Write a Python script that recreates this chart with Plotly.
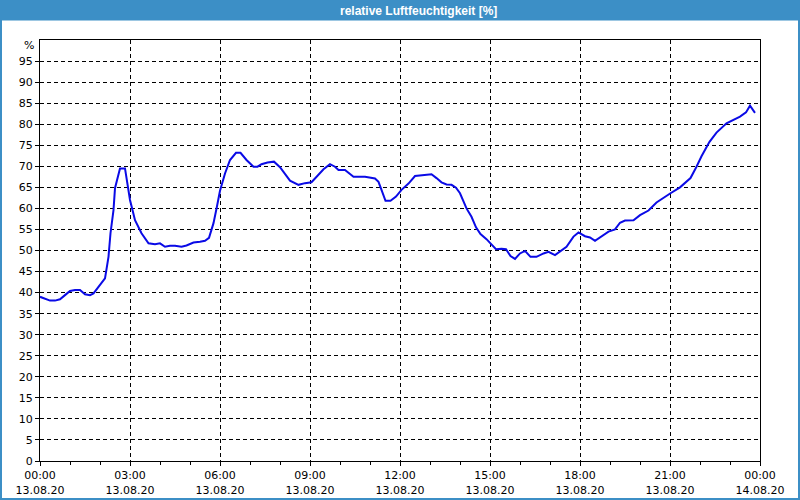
import plotly.graph_objects as go

DAY = "2020-08-13"
times = ["00:00","00:10","00:20","00:30","00:40","00:50","01:00","01:10","01:20","01:30",
         "01:40","01:47","01:57","02:10","02:17","02:21","02:27","02:30","02:34","02:38",
         "02:40","02:50","02:57","03:00","03:05","03:10","03:23","03:37","03:50","04:00",
         "04:10","04:20","04:30","04:43","04:53","05:07","05:20","05:30","05:38","05:47",
         "05:54","06:00","06:10","06:20","06:32","06:41","06:53","07:07","07:15","07:23",
         "07:35","07:48","08:00","08:20","08:37","08:50","09:03","09:13","09:27","09:40",
         "09:50","09:57","10:10","10:27","10:50","11:10","11:17","11:23","11:31","11:41",
         "11:52","12:03","12:17","12:30","12:50","13:03","13:13","13:23","13:33","13:43",
         "13:52","14:00","14:13","14:23","14:32","14:41","14:53","15:03","15:12","15:23",
         "15:32","15:41","15:50","16:00","16:10","16:21","16:33","16:47","16:57","17:10",
         "17:20","17:33","17:47","17:57","18:10","18:20","18:30","18:43","18:57","19:10",
         "19:20","19:30","19:47","20:00","20:17","20:33","20:47","21:01","21:20","21:41",
         "21:53","22:03","22:19","22:33","22:53","23:07","23:20","23:32","23:40","23:50"]
humidity = [39.0,38.6,38.1,38.1,38.4,39.4,40.4,40.6,40.6,39.6,
            39.4,39.8,41.4,43.4,48.5,54.1,59.6,64.8,66.7,68.7,
            69.5,69.5,63.7,62.0,59.6,57.2,54.1,51.7,51.5,51.7,
            50.9,51.1,51.1,50.9,51.2,51.9,52.1,52.3,53.0,56.5,
            60.5,64.2,68.3,71.5,73.2,73.2,71.5,69.9,69.9,70.5,
            70.9,71.1,69.8,66.6,65.6,66.0,66.2,67.4,69.3,70.5,
            69.9,69.1,69.1,67.5,67.5,67.1,66.3,64.4,61.8,61.8,
            62.8,64.4,65.9,67.7,67.9,68.1,67.2,66.2,65.7,65.6,
            64.9,63.6,60.0,58.0,55.5,53.9,52.7,51.5,50.3,50.4,
            50.3,48.7,48.0,49.3,49.9,48.5,48.5,49.3,49.7,48.9,
            49.7,50.9,53.3,54.3,53.4,53.1,52.3,53.4,54.5,55.0,
            56.6,57.1,57.2,58.4,59.5,61.4,62.4,63.6,65.0,67.2,
            69.9,72.4,75.8,78.0,80.2,81.0,81.8,82.8,84.4,82.7]

x_tick_vals = ["2020-08-13 00:00","2020-08-13 03:00","2020-08-13 06:00","2020-08-13 09:00",
               "2020-08-13 12:00","2020-08-13 15:00","2020-08-13 18:00","2020-08-13 21:00",
               "2020-08-14 00:00"]
x_tick_text = ["00:00<br>13.08.20","03:00<br>13.08.20","06:00<br>13.08.20","09:00<br>13.08.20",
               "12:00<br>13.08.20","15:00<br>13.08.20","18:00<br>13.08.20","21:00<br>13.08.20",
               "00:00<br>14.08.20"]
y_tick_vals = list(range(0, 100, 5))
y_tick_text = [str(v) for v in y_tick_vals]
title_text = "relative Luftfeuchtigkeit [%]"
unit_text = "%"

BAR = "#3c8fc6"
FONT = "DejaVu Sans"

x = [f"{DAY} {t}" for t in times]

fig = go.Figure()
fig.add_trace(go.Scatter(x=x, y=humidity, mode="lines",
                         line=dict(color="#0a0ae6", width=2), hoverinfo="skip"))

L, R, T, B = 40, 40, 40, 39
W, H = 800, 500
pw, ph = W - L - R, H - T - B

def px_x(p):
    return (p - L) / pw

def px_y(p):
    return (H - B - p) / ph

fig.update_layout(
    template="none",
    width=W, height=H, autosize=False,
    margin=dict(l=L, r=R, t=T, b=B, pad=0),
    paper_bgcolor="white", plot_bgcolor="white",
    showlegend=False,
    font=dict(family=FONT, size=11, color="black"),
    xaxis=dict(
        type="date", automargin=False,
        range=["2020-08-13 00:00", "2020-08-14 00:00"],
        tickvals=x_tick_vals, ticktext=x_tick_text,
        showgrid=True, gridcolor="black", gridwidth=1, griddash="4px,3px",
        showline=True, linecolor="black", linewidth=1, mirror=True,
        ticks="outside", ticklen=4, tickcolor="black", tickwidth=1,
        minor=dict(dtick=3600000, ticks="outside", ticklen=3, tickcolor="black", showgrid=False),
        zeroline=False, fixedrange=True,
        tickfont=dict(family=FONT, size=11, color="black"),
    ),
    yaxis=dict(
        automargin=False,
        range=[0, 100],
        tickvals=y_tick_vals, ticktext=y_tick_text,
        showgrid=True, gridcolor="black", gridwidth=1, griddash="4px,3px",
        showline=True, linecolor="black", linewidth=1, mirror=True,
        ticks="outside", ticklen=4, tickcolor="black", tickwidth=1,
        zeroline=False, fixedrange=True,
        tickfont=dict(family=FONT, size=11, color="black"),
    ),
    shapes=[
        dict(type="rect", xref="paper", yref="paper",
             x0=px_x(0), x1=px_x(W), y0=px_y(20.5), y1=px_y(0),
             fillcolor=BAR, line=dict(width=0), layer="above"),
        dict(type="rect", xref="paper", yref="paper",
             x0=px_x(1), x1=px_x(W - 1), y0=px_y(H - 1), y1=px_y(10),
             fillcolor="rgba(0,0,0,0)", line=dict(color=BAR, width=2), layer="above"),
    ],
    annotations=[
        dict(text=f"<b>{title_text}</b>", xref="paper", yref="paper",
             x=px_x(W / 2 + 18), y=px_y(10.5), xanchor="center", yanchor="middle",
             showarrow=False, font=dict(family="Liberation Sans", size=12, color="white")),
        dict(text=unit_text, xref="paper", yref="y", x=px_x(36), y=100,
             xanchor="right", yanchor="middle", yshift=-5, showarrow=False,
             font=dict(family=FONT, size=11, color="black")),
    ],
)

fig.write_html("out.html")
